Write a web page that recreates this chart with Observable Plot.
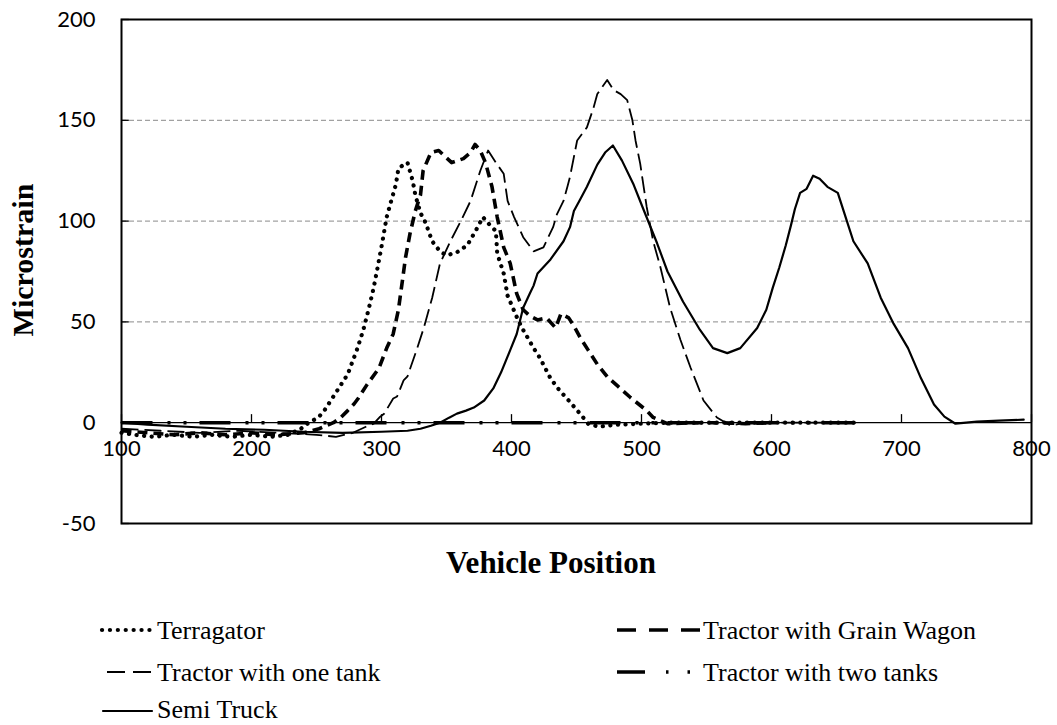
<!DOCTYPE html>
<html>
<head>
<meta charset="utf-8">
<script src="https://cdn.jsdelivr.net/npm/d3@7"></script>
<script src="https://cdn.jsdelivr.net/npm/@observablehq/plot@0.6"></script>
<style>
  html, body { margin: 0; padding: 0; background: white; }
  #wrap { position: relative; width: 1057px; height: 725px; }
  #chart { position: absolute; left: 0; top: 0; }
  #overlay { position: absolute; left: 0; top: 0; pointer-events: none; }
  #overlay text { font-family: "Liberation Serif", "Times New Roman", serif; fill: black; }
</style>
</head>
<body>
<div id="wrap"><div id="chart"></div><svg id="overlay" width="1057" height="725"></svg></div>
<script>
// ---- data ----
const xTicks = [100, 200, 300, 400, 500, 600, 700, 800];
const yTicks = [-50, 0, 50, 100, 150, 200];
const gridValues = [50, 100, 150];

const seriesNames = ["Terragator", "Tractor with Grain Wagon", "Tractor with one tank", "Tractor with two tanks", "Semi Truck"];

const terragator = [[100,-5],[110,-6],[125,-7],[140,-6],[155,-7],[170,-6],[185,-7],[200,-6],[215,-7],[228,-6],[238,-3],[243,-0.5],[251,2.5],[255,5],[260,10],[266,16],[274,24],[281,36],[286,46],[290,56],[294,67],[297,77],[300.5,89],[304,102],[307,109],[311,118],[313,126],[317,128],[320,129],[324,120],[326,113],[330,104],[334,99],[339,90],[345,85],[350,83],[358,84.5],[366,88],[374,97],[378,102],[382,99],[388,95],[389,84],[394,74],[397,63],[401,57],[405,51],[409,46],[417,37],[422,32],[430,22],[437,16],[444,11],[454,3.5],[459,-0.5],[467,-2],[480,-1],[500,-0.5],[520,0],[560,0],[620,0],[665,0]];

const grainWagon = [[100,-4],[120,-5],[140,-6],[160,-5],[180,-6],[200,-5],[220,-6],[240,-5],[252,-3],[263,0],[268.5,2.5],[274,6],[279,9.4],[282,12],[289,19],[298,27],[304,37],[309,44],[313,56],[316,70],[318.5,82],[322,94],[326,105],[330,113],[332,125],[338,134],[344,135],[349,132],[354,129],[363,131],[368.5,134],[372,138],[376,135],[380,129],[385,117],[389,102],[394,87],[399,79],[404,64],[409,56],[414,53],[420,51],[427,52],[434,47],[438,54],[444,52],[448,48],[453,42],[459,36],[466,29],[474,22.5],[482,18],[491.5,12.5],[504,6],[509,2.6],[520,-0.5],[540,0],[560,0],[580,-0.5],[600,0]];

const oneTank = [[100,-3],[130,-4],[160,-5],[190,-4],[220,-5],[250,-6],[265,-7],[278,-5],[288,-2],[294,-0.5],[299,3],[302,4.4],[309,12],[312,13],[317,21],[320,23],[327.5,37],[332.5,47],[339,62],[345,79],[353,90],[361,100],[368.5,110],[376,125],[382,135],[388,129],[394,123.5],[397,110],[402,102],[409,92],[417,85],[424.6,87],[432,97],[435,103.5],[440,110],[443,117],[445,122],[450.5,140],[458,146.5],[463,156],[466,163],[473.6,170],[478.5,165],[484,163],[489,160],[493,150],[495.4,140],[499,128.5],[504,107],[509,90],[514.6,77],[522,57],[530,41],[537.7,27.4],[547.7,11],[558,2.6],[568.5,-1.5],[580,0],[600,0],[640,0],[665,0]];

const twoTanks = [[100,0],[200,0],[300,0],[400,0],[500,0],[600,0],[665,0]];

const semiTruck = [[100,0],[120,-1],[150,-2],[180,-3],[210,-3.5],[240,-4.5],[270,-5],[300,-4.5],[320,-4],[330,-3],[338,-1.5],[345,0],[352,2.5],[358,4.5],[365,6],[371,7.5],[379,11],[386,17],[392,25],[399,36],[404,44],[409,57],[414,64],[417,68],[420,74],[430,81],[440,90],[445,97],[448,105],[453,111],[458,117],[466,128],[472,134],[478,137.5],[485,130],[494,118],[502,105],[512,89],[520,75],[532,60],[545,46],[555,37],[566,34.5],[576,37],[589,47],[596,56],[601,67],[606,77],[611,88],[615,98],[618,106],[622,114],[627,116],[632,122.5],[637,121],[643,117],[651,114],[658,100],[663,90],[674,79],[684,62],[694,49],[705,37],[715,22],[725,9],[733,3],[741.5,-0.5],[758,0.5],[775,1],[794,1.5]];

// ---- styles ----
const styles = {
  "Terragator": {strokeWidth: 4.2, strokeDasharray: "0.1 7.5", strokeLinecap: "round"},
  "Tractor with Grain Wagon": {strokeWidth: 3.6, strokeDasharray: "10 6", strokeLinecap: "butt"},
  "Tractor with one tank": {strokeWidth: 1.8, strokeDasharray: "17 6", strokeLinecap: "butt"},
  "Tractor with two tanks": {strokeWidth: 3.6, strokeDasharray: "31 15 3 13 3 13", strokeLinecap: "butt"},
  "Semi Truck": {strokeWidth: 2.2, strokeDasharray: null, strokeLinecap: "round"}
};
const seriesData = [terragator, grainWagon, oneTank, twoTanks, semiTruck];

const lineMarks = seriesData.map((data, i) => {
  const s = styles[seriesNames[i]];
  const o = {x: d => d[0], y: d => d[1], stroke: "black", strokeWidth: s.strokeWidth, strokeLinecap: s.strokeLinecap, strokeLinejoin: "round"};
  if (s.strokeDasharray) o.strokeDasharray = s.strokeDasharray;
  return Plot.line(data, o);
});

const chart = Plot.plot({
  width: 1057,
  height: 540,
  marginLeft: 121,
  marginRight: 26,
  marginTop: 19,
  marginBottom: 17,
  x: {domain: [100, 800], axis: null},
  y: {domain: [-50, 200]},
  style: {fontFamily: "Lato, 'Open Sans', sans-serif", fontSize: "22px", background: "white", overflow: "visible", color: "black"},
  marks: [
    Plot.ruleY(gridValues, {y: d => d, stroke: "#8a8a8a", strokeWidth: 1, strokeDasharray: "5 3"}),
    Plot.ruleY(yTicks, {y: d => d, x1: 100, x2: 106, stroke: "black", strokeWidth: 1.3}),
    Plot.ruleY([0], {y: d => d, stroke: "black", strokeWidth: 1.3}),
    Plot.ruleX(xTicks, {x: d => d, y1: 0, y2: 4, stroke: "black", strokeWidth: 1.3}),
    Plot.axisY(yTicks, {tickSize: 0, tickPadding: 26, tickFormat: d => String(d), fontSize: 22, label: null}),
    Plot.text(xTicks, {x: d => d, y: 0, dy: 26, text: d => String(d), fontSize: 22, fill: "black"}),
    ...lineMarks,
    Plot.frame({stroke: "black", strokeWidth: 2})
  ]
});
document.getElementById("chart").appendChild(chart);

// ---- titles and legend ----
const ov = d3.select("#overlay");
ov.append("text").attr("transform", "translate(33,260) rotate(-90)")
  .attr("text-anchor", "middle").style("font-weight", "bold")
  .style("font-size", "30px").text("Microstrain");
ov.append("text").attr("x", 551).attr("y", 573)
  .attr("text-anchor", "middle").style("font-weight", "bold")
  .style("font-size", "31px").text("Vehicle Position");

const legendItems = [
  {name: seriesNames[0], x0: 102, x1: 152, tx: 157, y: 630, base: 639},
  {name: seriesNames[1], x0: 617, x1: 701, tx: 703, y: 630, base: 639},
  {name: seriesNames[2], x0: 107, x1: 151, tx: 157, y: 672, base: 681},
  {name: seriesNames[3], x0: 617, x1: 701, tx: 703, y: 672, base: 681},
  {name: seriesNames[4], x0: 103, x1: 152, tx: 157, y: 711, base: 718}
];
const legendDash = {
  "Terragator": "0.1 7.8",
  "Tractor with Grain Wagon": "19 13",
  "Tractor with one tank": "18 8",
  "Tractor with two tanks": "28 21 2.5 19 2.5 40",
  "Semi Truck": null
};
legendItems.forEach(it => {
  const s = styles[it.name];
  const l = ov.append("line").attr("x1", it.x0).attr("x2", it.x1).attr("y1", it.y).attr("y2", it.y)
    .attr("stroke", "black").attr("stroke-width", s.strokeWidth).attr("stroke-linecap", s.strokeLinecap);
  if (legendDash[it.name]) l.attr("stroke-dasharray", legendDash[it.name]);
  ov.append("text").attr("x", it.tx).attr("y", it.base)
    .style("font-size", "26px").text(it.name);
});
</script>
</body>
</html>
